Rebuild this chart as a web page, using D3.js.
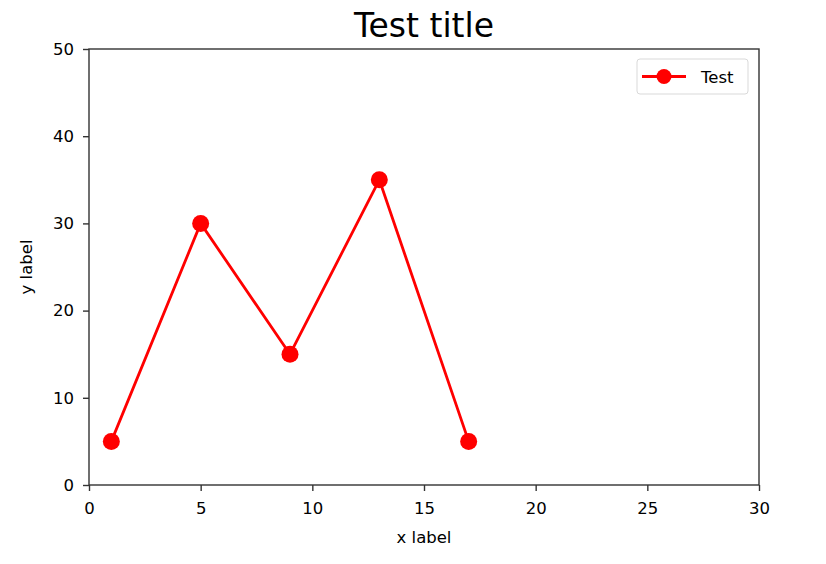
<!DOCTYPE html>
<html><head><meta charset="utf-8">
<script src="https://cdn.jsdelivr.net/npm/d3@7"></script>
<style>body{margin:0;background:#fff}svg{display:block}text{font-family:"DejaVu Sans",sans-serif;fill:#000}</style>
</head><body><svg id="c" width="826" height="564"></svg>
<script>
const xValues=[1,5,9,13,17];
const yValues=[5,30,15,35,5];
const xTicks=[0,5,10,15,20,25,30];
const yTicks=[0,10,20,30,40,50];
const seriesName="Test";
const title="Test title", xLabel="x label", yLabel="y label";

const svg=d3.select("#c");
const L=89,R=759,T=49,B=485;
const FS=16.5;
const x=d3.scaleLinear().domain([0,30]).range([L,R]);
const y=d3.scaleLinear().domain([0,50]).range([B,T]);
const data=xValues.map((v,i)=>({x:v,y:yValues[i]}));

const xa=svg.append("g").attr("transform",`translate(0,${B})`).call(d3.axisBottom(x).tickValues(xTicks).tickSize(6).tickPadding(11).tickFormat(d3.format("d")));
const ya=svg.append("g").attr("transform",`translate(${L},0)`).call(d3.axisLeft(y).tickValues(yTicks).tickSize(6).tickPadding(9).tickFormat(d3.format("d")));
[xa,ya].forEach(a=>{a.select(".domain").remove();a.selectAll("line").attr("stroke","#333").attr("stroke-width",1.4);a.selectAll("text").attr("font-size",FS).attr("font-family","DejaVu Sans").attr("fill","#222");});
svg.append("rect").attr("x",L).attr("y",T).attr("width",R-L).attr("height",B-T).attr("fill","none").attr("stroke","#333").attr("stroke-width",1.4);

svg.append("path").datum(data).attr("fill","none").attr("stroke","#ff0000").attr("stroke-width",2.8).attr("stroke-linejoin","round")
 .attr("d",d3.line().x(d=>x(d.x)).y(d=>y(d.y)));
svg.selectAll("circle.m").data(data).join("circle").attr("class","m").attr("cx",d=>x(d.x)).attr("cy",d=>y(d.y)).attr("r",8.5).attr("fill","#ff0000");

svg.append("text").attr("x",(L+R)/2).attr("y",37).attr("text-anchor","middle").attr("font-size",33).attr("fill","#111").text(title);
svg.append("text").attr("x",(L+R)/2).attr("y",543).attr("text-anchor","middle").attr("font-size",FS).attr("fill","#222").text(xLabel);
svg.append("text").attr("transform",`translate(32,${(T+B)/2}) rotate(-90)`).attr("text-anchor","middle").attr("font-size",FS).attr("fill","#222").text(yLabel);

const lg=svg.append("g");
lg.append("rect").attr("x",637).attr("y",59).attr("width",111).attr("height",35).attr("rx",3).attr("fill","#fff").attr("stroke","#d9d9d9").attr("stroke-width",1);
lg.append("line").attr("x1",642).attr("x2",686).attr("y1",76.5).attr("y2",76.5).attr("stroke","#ff0000").attr("stroke-width",2.8);
lg.append("circle").attr("cx",664).attr("cy",76.5).attr("r",7.5).attr("fill","#ff0000");
lg.append("text").attr("x",701).attr("y",82.5).attr("font-size",FS).attr("fill","#222").text(seriesName);
</script></body></html>
